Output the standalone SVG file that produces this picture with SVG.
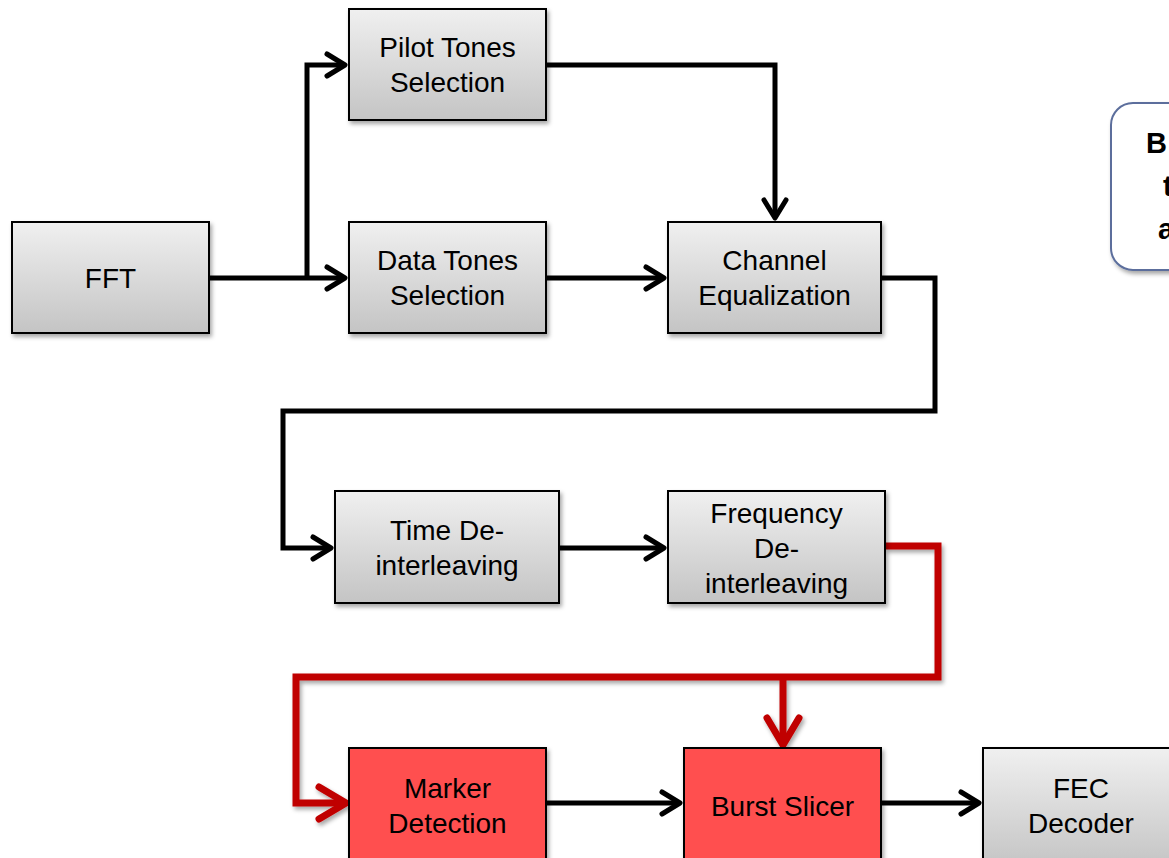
<svg xmlns="http://www.w3.org/2000/svg" width="1169" height="858" viewBox="0 0 1169 858">
<defs>
<linearGradient id="gray" x1="0" y1="0" x2="0" y2="1">
<stop offset="0" stop-color="#f0f0f0"/>
<stop offset="1" stop-color="#c4c4c4"/>
</linearGradient>
<filter id="sh" x="-10%" y="-10%" width="130%" height="130%">
<feDropShadow dx="2" dy="3" stdDeviation="2" flood-color="#000" flood-opacity="0.35"/>
</filter>
<filter id="shl" filterUnits="userSpaceOnUse" x="0" y="0" width="1169" height="858">
<feDropShadow dx="2" dy="3" stdDeviation="2" flood-color="#000" flood-opacity="0.35"/>
</filter>
<marker id="ab" markerUnits="userSpaceOnUse" viewBox="-25 -15 30 30" markerWidth="30" markerHeight="30" refX="-2" refY="0" orient="auto" overflow="visible">
<path d="M-18,-11 L0,0 L-18,11" fill="none" stroke="#000" stroke-width="5" stroke-linecap="round" stroke-linejoin="round"/>
</marker>
<marker id="ar" markerUnits="userSpaceOnUse" viewBox="-35 -20 40 40" markerWidth="40" markerHeight="40" refX="-3" refY="0" orient="auto" overflow="visible">
<path d="M-27,-16 L0,0 L-27,16" fill="none" stroke="#C00000" stroke-width="7" stroke-linecap="round" stroke-linejoin="round"/>
</marker>
</defs>
<style>
.box{fill:url(#gray);stroke:#000;stroke-width:2;filter:url(#sh)}
.red{fill:#FF5050;stroke:#000;stroke-width:2;filter:url(#sh)}
.t{font-family:"Liberation Sans",Arial,sans-serif;font-size:28px;fill:#000;text-anchor:middle}
.b{font-weight:bold;font-size:29px}
.cb{fill:none;stroke:#000;stroke-width:5;stroke-linejoin:miter}
.cr{fill:none;stroke:#C00000;stroke-width:7;stroke-linejoin:miter}
</style>
<rect width="1169" height="858" fill="#fff"/>

<g id="connectors">
<path class="cb" d="M209,278 L343,278" marker-end="url(#ab)"/>
<path class="cb" d="M307,278 L307,65 L343,65" marker-end="url(#ab)"/>
<path class="cb" d="M546,65 L775,65 L775,216" marker-end="url(#ab)"/>
<path class="cb" d="M546,278 L662,278" marker-end="url(#ab)"/>
<path class="cb" d="M881,278 L935,278 L935,411 L283,411 L283,548 L329,548" marker-end="url(#ab)"/>
<path class="cb" d="M559,548 L662,548" marker-end="url(#ab)"/>
<g filter="url(#shl)">
<path class="cr" d="M885,546 L938,546 L938,677 L296,677 L296,803 L343,803" marker-end="url(#ar)"/>
<path class="cr" d="M783,677 L783,742" marker-end="url(#ar)"/>
</g>
<path class="cb" d="M546,803 L678,803" marker-end="url(#ab)"/>
<path class="cb" d="M881,803 L977,803" marker-end="url(#ab)"/>
</g>

<g id="fft">
<rect class="box" x="12" y="222" width="197" height="111"/>
<text class="t" x="110.5" y="288">FFT</text>
</g>
<g id="pilot">
<rect class="box" x="349" y="9" width="197" height="111"/>
<text class="t" x="447.5" y="57">Pilot Tones</text>
<text class="t" x="447.5" y="92">Selection</text>
</g>
<g id="data">
<rect class="box" x="349" y="222" width="197" height="111"/>
<text class="t" x="447.5" y="270">Data Tones</text>
<text class="t" x="447.5" y="305">Selection</text>
</g>
<g id="channel">
<rect class="box" x="668" y="222" width="213" height="111"/>
<text class="t" x="774.5" y="270">Channel</text>
<text class="t" x="774.5" y="305">Equalization</text>
</g>
<g id="time">
<rect class="box" x="335" y="491" width="224" height="112"/>
<text class="t" x="447" y="540">Time De-</text>
<text class="t" x="447" y="575">interleaving</text>
</g>
<g id="freq">
<rect class="box" x="668" y="491" width="217" height="112"/>
<text class="t" x="776.5" y="523">Frequency</text>
<text class="t" x="776.5" y="558">De-</text>
<text class="t" x="776.5" y="593">interleaving</text>
</g>
<g id="marker">
<rect class="red" x="349" y="748" width="197" height="120"/>
<text class="t" x="447.5" y="798">Marker</text>
<text class="t" x="447.5" y="833">Detection</text>
</g>
<g id="burst">
<rect class="red" x="684" y="748" width="197" height="120"/>
<text class="t" x="782.5" y="816">Burst Slicer</text>
</g>
<g id="fec">
<rect class="box" x="983" y="748" width="197" height="120"/>
<text class="t" x="1081" y="798">FEC</text>
<text class="t" x="1081" y="833">Decoder</text>
</g>
<g id="callout">
<rect x="1111" y="103" width="120" height="167" rx="22" ry="22" fill="#fff" stroke="#5B6E9C" stroke-width="2" filter="url(#sh)"/>
<text class="t b" x="1146" y="153" style="text-anchor:start">B</text>
<text class="t b" x="1163" y="196" style="text-anchor:start">t</text>
<text class="t b" x="1158" y="239" style="text-anchor:start">a</text>
</g>
</svg>
